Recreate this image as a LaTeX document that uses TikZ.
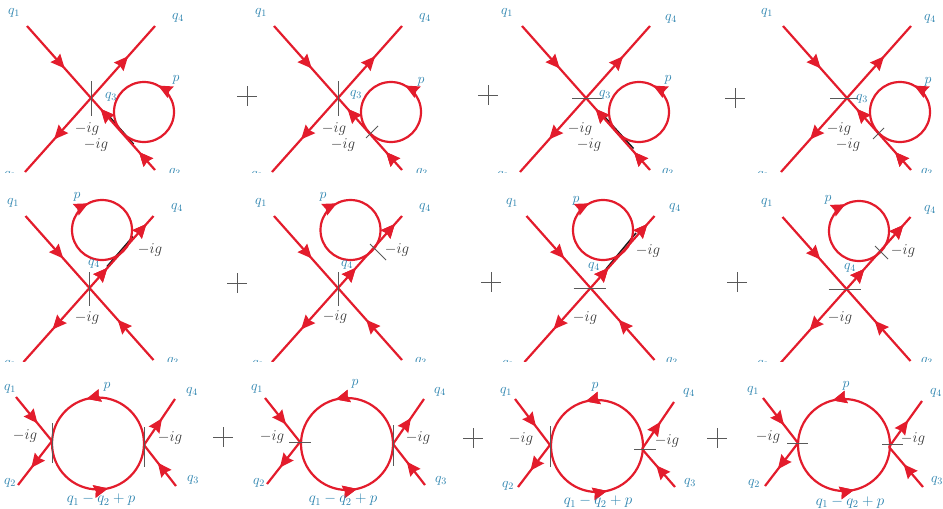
\documentclass[tikz,border=0pt]{standalone}
\usepackage{fix-cm}
\usetikzlibrary{arrows.meta,decorations.markings,calc}
\definecolor{feyn}{HTML}{E31C2C}
\definecolor{lab}{HTML}{2A82AE}
\definecolor{txt}{HTML}{3A3A3A}
\tikzset{
  prop/.style={draw=feyn,line width=2.2pt},
  tipat/.style={postaction={decorate},decoration={markings,mark=at position #1 with {\arrow[feyn]{Stealth[length=14pt,width=12.5pt,inset=1.5pt]}}}},
  tick/.style={draw=black!65,line width=0.8pt},
  insert/.style={draw=black!90,line width=1.5pt},
  plusbar/.style={draw=black!65,line width=1pt},
  mom/.style={text=lab,inner sep=0pt,font=\fontsize{14}{16}\selectfont},
  momlong/.style={text=lab,inner sep=0pt,font=\fontsize{15}{17}\selectfont},
  fac/.style={text=txt,inner sep=0pt,font=\fontsize{15}{17}\selectfont},
}
\newcommand\legs[3]{%
  \coordinate (#1c) at (#2,#3);
  \coordinate (#1a) at ($(#1c)+(-64,-72)$);
  \coordinate (#1d) at ($(#1c)+(64,-72)$);
  \coordinate (#1b) at ($(#1c)+(-66,74)$);
  \coordinate (#1e) at ($(#1c)+(64,72)$);
  \path[prop,tipat=.59] (#1a) -- (#1c);
  \path[prop,tipat=.56] (#1c) -- (#1b);
}
\newcommand\loopccw[3]{%
  \path[prop,#3] ($(#1,#2)+(30,0)$) arc[start angle=0,end angle=-360,radius=30];}
\newcommand\loopcw[2]{%
  \path[prop,tipat=.675] ($(#1,#2)+(30,0)$) arc[start angle=0,end angle=360,radius=30];}
\newcommand\panelA[3]{%
  \legs{#1}{#2}{#3}%
  \path[prop,tipat=.58] (#1c) -- (#1d);
  \path[prop,tipat=.25,tipat=.85] (#1e) -- (#1c);
  \loopccw{#2+53}{#3+14}{tipat=.172}%
}
\newcommand\panelB[3]{%
  \legs{#1}{#2}{#3}%
  \path[prop,tipat=.28,tipat=.89] (#1c) -- (#1d);
  \path[prop,tipat=.56] (#1e) -- (#1c);
  \loopcw{#2+12.5}{#3-58}%
}
\newcommand\panelC[8]{%
  \coordinate (#1v) at (#2);
  \coordinate (#1w) at (#3);
  \coordinate (#1a) at (#5);
  \coordinate (#1b) at (#6);
  \coordinate (#1d) at (#7);
  \coordinate (#1e) at (#8);
  \path[prop,tipat=.6] (#1a) -- (#1v);
  \path[prop,tipat=.61] (#1v) -- (#1b);
  \path[prop,tipat=.58] (#1w) -- (#1d);
  \path[prop,tipat=.57] (#1e) -- (#1w);
  \path[prop,tipat=.29,tipat=.785] ($(#4)+(46,0)$) arc[start angle=0,end angle=-360,radius=46];
}
\newcommand\plusmark[3]{%
  \coordinate (#1) at (#2,#3);
  \draw[plusbar] ($(#1)+(-10,0)$) -- ($(#1)+(10,0)$);
  \draw[plusbar] ($(#1)+(0,-10)$) -- ($(#1)+(0,10)$);
}
\newcommand\Mo[4]{\node[mom] (#1) at (#2,#3) {$#4$};}
\newcommand\Ml[3]{\node[momlong] (#1) at (#2,#3) {$q_1-q_2+p$};}
\newcommand\Fa[3]{\node[fac] (#1) at (#2,#3) {$-ig$};}
\begin{document}
\begin{tikzpicture}[x=1pt,y=-1pt]
\useasboundingbox (0,0) rectangle (943,509);
% ---------- row 1
\begin{scope}
\clip (0,0) rectangle (943,172.5);
\draw[insert] (108.5,115.5) -- (133.5,144);
\draw[insert] (603,115) -- (633.5,148.5);
\panelA{A}{91}{98}
\panelA{B}{338}{98}
\panelA{G}{586}{98}
\panelA{D}{847}{98}
\draw[tick] ($(Ac)+(0,-17)$) -- ($(Ac)+(0,18)$);
\draw[tick] ($(Bc)+(0,-17)$) -- ($(Bc)+(0,18)$);
\draw[tick] ($(Gc)+(-14,0)$) -- ($(Gc)+(16,0)$);
\draw[tick] ($(Dc)+(-17,0)$) -- ($(Dc)+(11,0)$);
\draw[tick] (366,138) -- (378,126);
\draw[tick] (873,139) -- (884,128);
\Mo{A1}{14}{13}{q_1}\Mo{A4}{178}{18}{q_4}\Mo{Ap}{176}{80}{p}\Mo{A3}{111}{97}{q_3}\Mo{A3b}{175}{173}{q_3}\Mo{A2}{10}{176}{q_2}
\Fa{Af}{87}{129}\Fa{Ag}{96}{145}
\Mo{B1}{261}{13}{q_1}\Mo{B4}{425}{18}{q_4}\Mo{Bp}{421}{82}{p}\Mo{B3}{356}{95}{q_3}\Mo{B3b}{422}{173}{q_3}\Mo{B2}{257}{176}{q_2}
\Fa{Bf}{334}{129}\Fa{Bg}{343}{145}
\Mo{G1}{507}{13}{q_1}\Mo{G4}{671}{19}{q_4}\Mo{Gp}{668}{80}{p}\Mo{G3}{605}{95}{q_3}\Mo{G3b}{668}{173}{q_3}\Mo{G2}{503}{176}{q_2}
\Fa{Gf}{580}{129}\Fa{Gg}{589}{145}
\Mo{D1}{767}{13}{q_1}\Mo{D4}{930}{19}{q_4}\Mo{Dp}{928}{82}{p}\Mo{D3}{862}{99}{q_3}\Mo{D3b}{927}{173}{q_3}\Mo{D2}{763}{176}{q_2}
\Fa{Df}{839}{129}\Fa{Dg}{848}{145}
\end{scope}
\plusmark{P1}{247}{96}\plusmark{P2}{488}{95}\plusmark{P3}{735}{98}
% ---------- row 2
\begin{scope}
\clip (0,180) rectangle (943,361.5);
\draw[insert] (107,266.5) -- (133,236.5);
\draw[insert] (606,269) -- (636,233);
\panelB{E}{89.5}{288}
\panelB{F}{338}{288}
\panelB{H}{590.5}{288}
\panelB{I}{846.5}{289}
\draw[tick] ($(Ec)+(0,-16)$) -- ($(Ec)+(0,18)$);
\draw[tick] ($(Fc)+(0,-16)$) -- ($(Fc)+(0,18)$);
\draw[tick] ($(Hc)+(-17,0)$) -- ($(Hc)+(15,0)$);
\draw[tick] ($(Ic)+(-18,0)$) -- ($(Ic)+(14,0)$);
\draw[tick] (370,244) -- (386,260);
\draw[tick] (875,246) -- (888,259);
\Mo{E1}{13}{203}{q_1}\Mo{E4}{177}{208}{q_4}\Mo{Ep}{77}{197}{p}\Mo{E3}{94}{264}{q_4}\Mo{E3b}{173}{362}{q_3}\Mo{E2}{10}{365}{q_2}
\Fa{Ef}{150}{250}\Fa{Eg}{87}{318}
\Mo{F1}{261}{203}{q_1}\Mo{F4}{425}{208}{q_4}\Mo{Fp}{323}{197}{p}\Mo{F3}{347}{265}{q_4}\Mo{F3b}{421}{362}{q_3}\Mo{F2}{258}{365}{q_2}
\Fa{Ff}{397}{250}\Fa{Fg}{335}{317}
\Mo{H1}{512}{203}{q_1}\Mo{H4}{675}{208}{q_4}\Mo{Hp}{576}{201}{p}\Mo{H3}{594}{267}{q_4}\Mo{H3b}{672}{362}{q_3}\Mo{H2}{508}{365}{q_2}
\Fa{Hf}{648}{251}\Fa{Hg}{585}{318}
\Mo{I1}{767}{203}{q_1}\Mo{I4}{930}{210}{q_4}\Mo{Ip}{828}{200}{p}\Mo{I3}{850}{268}{q_4}\Mo{I3b}{927}{362}{q_3}\Mo{I2}{763}{365}{q_2}
\Fa{If}{903}{251}\Fa{Ig}{840}{318}
\end{scope}
\plusmark{P4}{237}{283}\plusmark{P5}{491}{282}\plusmark{P6}{737}{282}
% ---------- row 3
\panelC{J}{52,441}{144,445}{98,443.5}{16,397}{18,485}{175,399}{176,486}
\panelC{K}{300,442}{393,444}{347,444}{265,398}{267,484}{424,399}{425,485}
\panelC{L}{550,445}{642,449}{597,446}{515,399}{518,487}{674,402}{675,487}
\panelC{M}{798,443}{889,447}{844,445}{763,398}{765,486}{922,401}{923,487}
\draw[tick] ($(Jv)+(0,-18)$) -- ($(Jv)+(0,22)$);
\draw[tick] ($(Jw)+(0,-18)$) -- ($(Jw)+(0,22)$);
\draw[tick] ($(Kv)+(-11,0)$) -- ($(Kv)+(11,0)$);
\draw[tick] ($(Kw)+(0,-19)$) -- ($(Kw)+(0,22)$);
\draw[tick] ($(Lv)+(0,-19)$) -- ($(Lv)+(0,22)$);
\draw[tick] ($(Lw)+(-8,0)$) -- ($(Lw)+(14,0)$);
\draw[tick] ($(Mv)+(-11,0)$) -- ($(Mv)+(10,0)$);
\draw[tick] ($(Mw)+(-7,-3)$) -- ($(Mw)+(14,-3)$);
\Mo{J1}{10}{389}{q_1}\Mo{J2}{10}{483}{q_2}\Mo{J4}{192}{392}{q_4}\Mo{J3}{193}{480}{q_3}\Mo{Jp}{107}{387}{p}
\Fa{Jf}{25}{436}\Fa{Jg}{170}{438}\Ml{Jm}{101}{500}
\Mo{K1}{257}{389}{q_1}\Mo{K2}{259}{483}{q_2}\Mo{K4}{440}{392}{q_4}\Mo{K3}{441}{481}{q_3}\Mo{Kp}{355}{384}{p}
\Fa{Kf}{272}{437}\Fa{Kg}{418}{438}\Ml{Km}{343}{500}
\Mo{L1}{506}{392}{q_1}\Mo{L2}{508}{486}{q_2}\Mo{L4}{689}{393}{q_4}\Mo{L3}{690}{483}{q_3}\Mo{Lp}{595}{387}{p}
\Fa{Lf}{521}{439}\Fa{Lg}{667}{441}\Ml{Lm}{598}{502}
\Mo{M1}{753}{391}{q_1}\Mo{M2}{754}{484}{q_2}\Mo{M4}{936}{393}{q_4}\Mo{M3}{937}{481}{q_3}\Mo{Mp}{846}{386}{p}
\Fa{Mf}{768}{437}\Fa{Mg}{913}{439}\Ml{Mm}{850}{502.5}
\plusmark{P7}{223}{437}\plusmark{P8}{473}{438}\plusmark{P9}{717}{438}
\end{tikzpicture}
\end{document}
